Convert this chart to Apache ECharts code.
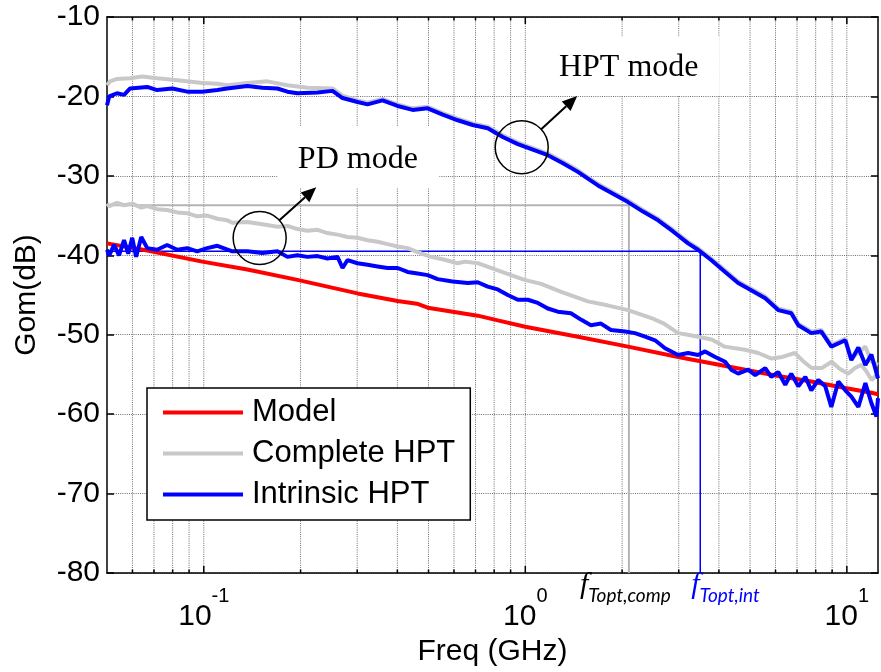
<!DOCTYPE html>
<html>
<head>
<meta charset="utf-8">
<script src="https://cdn.jsdelivr.net/npm/echarts@6/dist/echarts.min.js"></script>
<style>
  html, body { margin: 0; padding: 0; background: #fff; }
  #chart { width: 881px; height: 672px; }
</style>
</head>
<body>
<div id="chart"></div>
<script>
// Gom vs frequency, PD mode and HPT mode, model vs measured HPT.
// Values read off the original figure: [freq GHz, dB].

const xMajor = [0.1, 1, 10];
const xMinor = [0.06, 0.07, 0.08, 0.09, 0.2, 0.3, 0.4, 0.5, 0.6, 0.7, 0.8, 0.9,
                2, 3, 4, 5, 6, 7, 8, 9];
const yTicks = [-80, -70, -60, -50, -40, -30, -20, -10];

const model = [[0.05,-38.5],[0.0667,-39.4],[0.0989,-40.8],[0.1366,-41.8],[0.1955,-43.1],
  [0.3007,-44.8],[0.4007,-45.75],[0.46,-46.1],[0.4969,-46.6],[0.7112,-47.6],[0.8209,-48.2],
  [1.0,-49.0],[1.457,-50.25],[2.086,-51.5],[2.987,-52.8],[3.784,-53.6],[4.828,-54.4],
  [6.118,-55.2],[7.753,-55.9],[9.892,-56.7],[11.92,-57.3],[12.5,-57.5]];

const compPd = [[0.05,-33.5],[0.0508,-33.8],[0.0537,-33.4],[0.0565,-33.7],[0.0599,-33.5],
  [0.0639,-34.0],[0.0667,-33.8],[0.0716,-34.2],[0.0769,-34.3],[0.0827,-34.6],[0.0888,-34.7],
  [0.0954,-35.1],[0.1025,-35.0],[0.1102,-35.4],[0.1183,-35.6],[0.1227,-35.9],[0.1366,-35.8],
  [0.1521,-36.1],[0.1694,-36.4],[0.182,-36.3],[0.1955,-36.7],[0.2101,-36.9],[0.2257,-36.8],
  [0.2424,-37.2],[0.2606,-37.4],[0.28,-37.7],[0.3007,-37.8],[0.3231,-38.1],[0.3471,-38.3],
  [0.3728,-38.6],[0.4007,-38.9],[0.4305,-39.1],[0.4625,-39.6],[0.508,-40.2],[0.5534,-40.5],
  [0.616,-41.0],[0.65,-40.8],[0.7112,-41.0],[0.8209,-41.9],[0.994,-43.1],[1.12,-43.6],
  [1.293,-44.6],[1.565,-45.8],[1.8,-46.3],[2.086,-46.9],[2.468,-47.9],[2.7,-48.6],
  [2.987,-49.8],[3.2,-50.0],[3.445,-50.25],[3.8,-50.6],[4.17,-51.5],[4.82,-51.9],
  [5.3,-52.3],[5.83,-53.0],[6.3,-52.8],[6.89,-52.3],[7.3,-53.3],[7.77,-54.2],[8.35,-54.2],
  [8.97,-53.4],[9.5,-54.3],[10.1,-54.9],[10.6,-54.2],[11.1,-53.8],[11.5,-54.6],
  [11.95,-55.7],[12.5,-54.9]];

const compHpt = [[0.05,-18.6],[0.0511,-18.1],[0.0537,-17.8],[0.059,-17.7],[0.0643,-17.5],
  [0.0716,-17.7],[0.0798,-17.9],[0.0888,-18.1],[0.0989,-18.3],[0.1102,-18.4],[0.1183,-18.6],
  [0.1366,-18.3],[0.1577,-18.1],[0.182,-18.6],[0.2101,-18.9],[0.2514,-19.0],[0.2701,-19.9],
  [0.3007,-20.5],[0.3231,-20.8],[0.3597,-20.3],[0.4007,-21.0],[0.4461,-21.5],[0.4969,-21.3],
  [0.5534,-22.1],[0.6162,-22.8],[0.6862,-23.4],[0.764,-23.8],[0.851,-24.9],[0.9476,-25.8],
  [1.055,-26.5],[1.175,-27.2],[1.309,-28.2],[1.457,-29.3],[1.682,-31.0],[1.942,-32.4],
  [2.086,-33.1],[2.323,-34.3],[2.588,-35.4],[2.881,-36.8],[3.208,-38.3],[3.445,-39.1],
  [3.784,-40.4],[4.183,-41.9],[4.592,-43.3],[5.04,-44.2],[5.574,-45.2],[6.118,-46.7],
  [6.716,-47.1],[7.064,-48.6],[7.753,-49.6],[8.329,-49.4],[8.948,-51.3],[9.892,-50.5],
  [10.33,-53.0],[11.42,-51.5],[11.92,-53.4],[12.5,-53.8]];

const intHpt = [[0.05,-21.1],[0.0508,-20.0],[0.0537,-19.6],[0.0565,-19.8],[0.059,-19.0],
  [0.0667,-18.8],[0.0716,-19.2],[0.0798,-19.0],[0.0888,-19.4],[0.0989,-19.4],[0.1102,-19.2],
  [0.1183,-19.0],[0.1366,-18.7],[0.1521,-18.9],[0.1694,-19.0],[0.182,-19.4],[0.1955,-19.6],
  [0.2257,-19.5],[0.2514,-19.3],[0.2701,-20.2],[0.3007,-20.7],[0.3231,-21.0],[0.3597,-20.5],
  [0.4007,-21.2],[0.4461,-21.7],[0.4969,-21.5],[0.5534,-22.3],[0.6162,-23.0],[0.6862,-23.6],
  [0.764,-24.0],[0.851,-25.1],[0.9476,-26.0],[1.055,-26.7],[1.175,-27.4],[1.309,-28.4],
  [1.457,-29.5],[1.682,-31.2],[1.942,-32.6],[2.086,-33.3],[2.323,-34.5],[2.588,-35.6],
  [2.881,-37.0],[3.208,-38.5],[3.445,-39.3],[3.784,-40.6],[4.183,-42.1],[4.592,-43.5],
  [5.04,-44.4],[5.574,-45.4],[6.118,-46.9],[6.716,-47.3],[7.064,-48.8],[7.753,-49.8],
  [8.329,-49.6],[8.948,-51.5],[9.892,-50.7],[10.33,-53.2],[10.86,-51.6],[11.42,-53.8],
  [11.92,-52.5],[12.5,-55.5]];

const intPd = [[0.05,-39.3],[0.0508,-40.0],[0.0526,-38.7],[0.0545,-40.0],[0.0565,-38.1],
  [0.0582,-39.8],[0.0599,-37.8],[0.0616,-40.2],[0.0639,-37.7],[0.0667,-39.1],[0.0716,-39.3],
  [0.0769,-38.7],[0.0827,-39.3],[0.0888,-39.1],[0.0954,-39.5],[0.1025,-39.1],[0.1102,-38.8],
  [0.1227,-39.5],[0.1366,-39.5],[0.1521,-39.7],[0.1694,-39.5],[0.182,-40.2],[0.1955,-40.0],
  [0.2101,-40.2],[0.2257,-40.1],[0.2424,-40.4],[0.2606,-40.2],[0.2701,-41.6],[0.28,-40.6],
  [0.3007,-41.0],[0.3231,-41.2],[0.3471,-41.4],[0.3728,-41.6],[0.4007,-41.6],[0.4305,-42.1],
  [0.4625,-42.3],[0.4969,-42.5],[0.5338,-43.0],[0.5942,-43.3],[0.6621,-43.5],[0.7112,-43.4],
  [0.764,-43.95],[0.8209,-44.3],[0.882,-45.0],[0.9476,-45.6],[1.018,-45.6],[1.094,-46.0],
  [1.175,-46.7],[1.262,-47.1],[1.386,-47.3],[1.489,-48.1],[1.6,-48.8],[1.719,-48.6],
  [1.846,-49.4],[2.042,-49.6],[2.193,-49.8],[2.357,-50.25],[2.532,-50.7],[2.72,-51.7],
  [2.987,-52.55],[3.208,-52.3],[3.445,-52.55],[3.624,-52.1],[3.894,-52.8],[4.183,-53.4],
  [4.367,-54.4],[4.592,-54.9],[4.933,-54.4],[5.188,-55.1],[5.574,-54.2],[5.82,-55.3],
  [6.118,-54.7],[6.433,-56.3],[6.716,-54.9],[7.064,-56.5],[7.427,-55.3],[7.753,-57.0],
  [8.152,-55.7],[8.57,-56.5],[8.948,-59.1],[9.408,-55.9],[9.892,-57.0],[10.33,-57.8],
  [10.86,-59.1],[11.42,-56.1],[11.92,-58.6],[12.36,-60.3],[12.5,-58.0]];

// optimum-frequency markers
const compRef = [[0.05,-33.7],[2.1,-33.7],[2.1,-80]];
const intRef = [[0.05,-39.5],[3.5,-39.5],[3.5,-80]];

const FONT = '"Liberation Sans", Arial, sans-serif';
const SERIF = '"Liberation Serif", "Times New Roman", serif';
const GRID = '#6e6e6e';

const chart = echarts.init(document.getElementById('chart'));

function curve(name, data, color) {
  return {
    type: 'line', name, data, color, z: 3, silent: true,
    showSymbol: false, symbol: 'none',
    lineStyle: { color, width: 4 }, itemStyle: { color },
  };
}
function refLine(data, color, width) {
  return {
    type: 'line', data, z: 2, silent: true, showSymbol: false, symbol: 'none',
    lineStyle: { color, width }, itemStyle: { color },
  };
}

const gridLines = xMinor.map(f => [f, -80, 0]).concat(xMajor.map(f => [f, -80, 1]));

chart.setOption({
  animation: false,
  backgroundColor: '#fff',
  grid: { left: 107, right: 1, top: 17, bottom: 99 },
  xAxis: [{
    type: 'log', logBase: 10, min: 0.05, max: 12.5,
    name: 'Freq (GHz)', nameLocation: 'middle', nameGap: 64,
    nameTextStyle: { fontFamily: FONT, fontSize: 30, color: '#000' },
    axisLine: { show: true, lineStyle: { color: '#000', width: 1.5 } },
    axisTick: { show: false },
    splitLine: { show: false },
    axisLabel: {
      margin: 13, color: '#000',
      formatter: (v) => {
        const e = Math.log10(v), r = Math.round(e);
        return Math.abs(e - r) > 1e-6 ? '' : '{b|10}{s|' + r + '}';
      },
      rich: {
        b: { fontFamily: FONT, fontSize: 30, lineHeight: 46, verticalAlign: 'bottom', color: '#000' },
        s: { fontFamily: FONT, fontSize: 20, lineHeight: 20, verticalAlign: 'top', color: '#000' },
      },
    },
  }, {
    type: 'log', logBase: 10, min: 0.05, max: 12.5, position: 'top',
    axisLine: { show: true, lineStyle: { color: '#000', width: 1.5 } },
    axisTick: { show: false }, axisLabel: { show: false }, splitLine: { show: false },
  }],
  yAxis: [{
    type: 'value', min: -80, max: -10, interval: 10,
    name: 'Gom(dB)', nameLocation: 'middle', nameGap: 65,
    nameTextStyle: { fontFamily: FONT, fontSize: 30, color: '#000' },
    axisLine: { show: true, lineStyle: { color: '#000', width: 1.5 } },
    axisTick: { show: true, inside: true, length: 7, lineStyle: { color: '#000', width: 1.5 } },
    axisLabel: { fontFamily: FONT, fontSize: 30, color: '#000', margin: 7 },
    splitLine: { show: true, lineStyle: { color: GRID, width: 1, type: [1, 1.2] } },
  }, {
    type: 'value', min: -80, max: -10, interval: 10, position: 'right',
    axisLine: { show: true, lineStyle: { color: '#000', width: 1.5 } },
    axisTick: { show: true, inside: true, length: 7, lineStyle: { color: '#000', width: 1.5 } },
    axisLabel: { show: false }, splitLine: { show: false },
  }],
  legend: {
    data: ['Model', 'Complete HPT', 'Intrinsic HPT'],
    orient: 'vertical', left: 147, top: 388,
    icon: 'rect', itemWidth: 80, itemHeight: 4, itemGap: 10,
    padding: [9, 15, 10, 16],
    backgroundColor: '#fff', borderColor: '#000', borderWidth: 1.5, borderRadius: 0,
    selectedMode: false,
    textStyle: { fontFamily: FONT, fontSize: 31, color: '#000', lineHeight: 31, padding: [0, 0, 0, 4] },
  },
  series: [
    {
      // vertical log grid + ticks on bottom and top
      type: 'custom', z: 1, silent: true, data: gridLines, encode: { x: 0, y: 1 },
      renderItem: (params, api) => {
        const f = api.value(0), major = api.value(2) === 1;
        const top = api.coord([f, -10]), bot = api.coord([f, -80]);
        const len = major ? 7 : 3.5;
        const tick = { stroke: '#000', lineWidth: 1.5 };
        return { type: 'group', children: [
          { type: 'line', shape: { x1: top[0], y1: top[1], x2: bot[0], y2: bot[1] },
            style: { stroke: GRID, lineWidth: 1, lineDash: [1, 1.2] } },
          { type: 'line', shape: { x1: bot[0], y1: bot[1], x2: bot[0], y2: bot[1] - len }, style: tick },
          { type: 'line', shape: { x1: top[0], y1: top[1], x2: top[0], y2: top[1] + len }, style: tick },
        ] };
      },
    },
    refLine(compRef, '#b4b4b4', 2),
    refLine(intRef, '#0000ff', 1.5),
    curve('Model', model, '#ff0000'),
    curve('Complete HPT', compHpt, '#c8c8c8'),
    curve('Complete HPT', compPd, '#c8c8c8'),
    curve('Intrinsic HPT', intHpt, '#0000ff'),
    curve('Intrinsic HPT', intPd, '#0000ff'),
  ],
});

// ── Annotations (placed in data coordinates) ─────────────────────────────
const px = (p) => chart.convertToPixel({ gridIndex: 0 }, p);

function box(f0, f1, v0, v1) {
  const a = px([f0, v0]), b = px([f1, v1]);
  return { type: 'rect', z: 1.5, silent: true,
    shape: { x: a[0], y: a[1], width: b[0] - a[0], height: b[1] - a[1] },
    style: { fill: '#fff' } };
}
function ring(c) {
  const p = px(c);
  return { type: 'circle', z: 20, silent: true, shape: { cx: p[0], cy: p[1], r: 26.5 },
    style: { fill: 'none', stroke: '#000', lineWidth: 1.5 } };
}
function arrow(c, tip, r) {
  const a = px(c), t = px(tip);
  const dx = t[0] - a[0], dy = t[1] - a[1], L = Math.hypot(dx, dy);
  const ux = dx / L, uy = dy / L, head = 15, hw = 6.5;
  const s = [a[0] + ux * r, a[1] + uy * r];
  const b = [t[0] - ux * head, t[1] - uy * head];
  return [
    { type: 'line', z: 20, silent: true, shape: { x1: s[0], y1: s[1], x2: b[0], y2: b[1] },
      style: { stroke: '#000', lineWidth: 2 } },
    { type: 'polygon', z: 20, silent: true,
      shape: { points: [t, [b[0] - uy * hw, b[1] + ux * hw], [b[0] + uy * hw, b[1] - ux * hw]] },
      style: { fill: '#000' } },
  ];
}
function label(text, at) {
  const p = px(at);
  return { type: 'text', z: 20, silent: true,
    style: { text, x: p[0], y: p[1], align: 'center', verticalAlign: 'middle',
      textAlign: 'center', textVerticalAlign: 'middle',
      fontFamily: SERIF, fontSize: 32, fill: '#000' } };
}
function fLabel(sub, x, color) {
  return { type: 'text', z: 20, silent: true,
    style: { text: '{f|f}{s|' + sub + '}', x, y: 570, align: 'left', verticalAlign: 'top',
      textAlign: 'left', textVerticalAlign: 'top',
      rich: {
        f: { fontFamily: SERIF, fontStyle: 'italic', fontSize: 30, lineHeight: 35,
             verticalAlign: 'top', fill: color, color },
        s: { fontFamily: 'Lato, "Open Sans", sans-serif', fontStyle: 'italic', fontSize: 19,
             lineHeight: 19, verticalAlign: 'bottom', fill: color, color },
      } } };
}

chart.setOption({
  graphic: [
    box(0.1697, 0.54, -23.85, -31.5),
    box(1.103, 4.02, -12.5, -19.95),
    label('PD mode', [0.3014, -28.0]),
    label('HPT mode', [2.097, -16.42]),
    ring([0.1492, -37.82]),
    ring([0.9745, -26.4]),
    ...arrow([0.1492, -37.82], [0.2237, -31.44], 26.5),
    ...arrow([0.9745, -26.4], [1.45, -19.95], 26.5),
    fLabel('Topt,comp', px([2.1, -80])[0] - 49, '#000'),
    fLabel('Topt,int', px([3.5, -80])[0] - 9, '#0000ff'),
  ],
});
</script>
</body>
</html>
